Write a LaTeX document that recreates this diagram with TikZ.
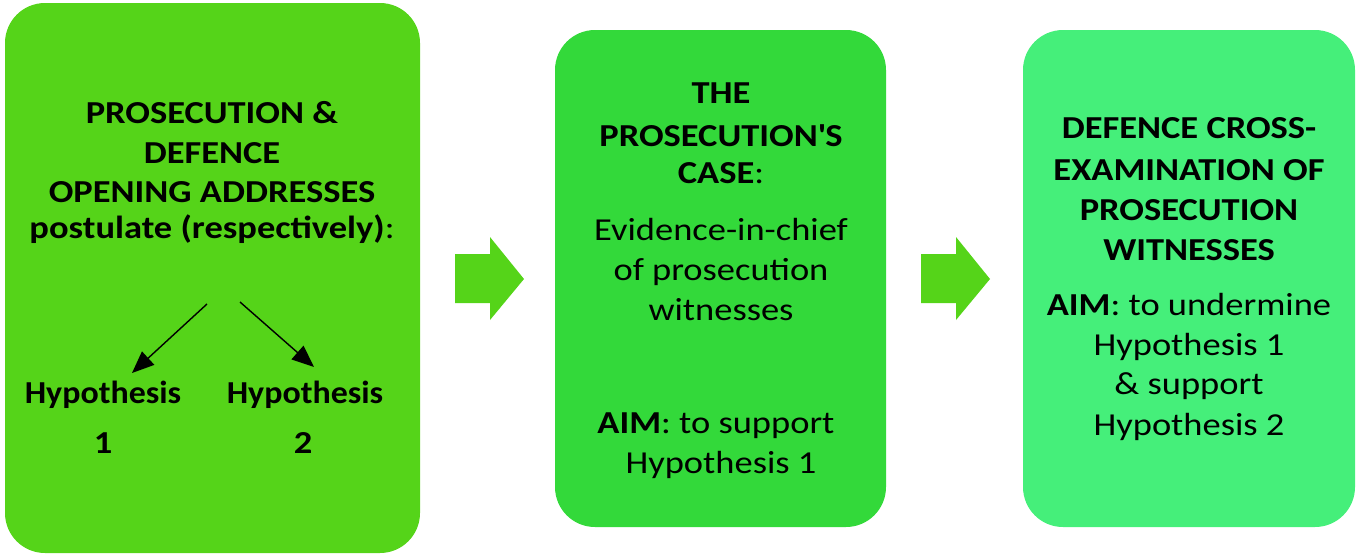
\documentclass[tikz,border=0pt]{standalone}
\usepackage{fontspec}
\setmainfont{Carlito}[FakeStretch=1.14]
\usetikzlibrary{arrows.meta}
\definecolor{gA}{RGB}{85,212,25}
\definecolor{gB}{RGB}{51,217,58}
\definecolor{gC}{RGB}{69,239,122}
\tikzset{
  panel/.style={rounded corners=40pt},
  ln/.style={anchor=base, inner sep=0pt, font=\fontsize{32}{38}\selectfont},
  bigarrow/.style={fill=gA},
  hyparrow/.style={line width=1.4pt, -{Triangle[length=22pt,width=18pt]}}
}
\newcommand{\narrow}[1]{\scalebox{0.93}[1]{#1}}
\begin{document}
\begin{tikzpicture}[x=1pt,y=-1pt]
\useasboundingbox (0,0) rectangle (1358,558);
% panels
\fill[gA, panel] (5,3) rectangle (420,553);
\fill[gB, panel] (555,30) rectangle (886,527);
\fill[gC, panel] (1023,30) rectangle (1355,527);
% big arrows
\fill[bigarrow] (455,254) -- (490,254) -- (490,237) -- (524,279) -- (490,320) -- (490,303) -- (455,303) -- cycle;
\fill[bigarrow] (921,254) -- (956,254) -- (956,237) -- (990,279) -- (956,320) -- (956,303) -- (921,303) -- cycle;
% panel 1
\node[ln] (a1) at (212,123) {\textbf{PROSECUTION \&}};
\node[ln] (a2) at (212,163) {\textbf{DEFENCE}};
\node[ln] (a3) at (212,202) {\textbf{OPENING ADDRESSES}};
\node[ln] (a4) at (212,238) {\textbf{postulate (respectively)}:};
\coordinate (s1) at (207,304);
\coordinate (s2) at (240,302);
\node[ln] (h1) at (103,403) {\narrow{\textbf{Hypothesis}}};
\node[ln] (h1n) at (103,453) {\textbf{1}};
\node[ln] (h2) at (305,403) {\narrow{\textbf{Hypothesis}}};
\node[ln] (h2n) at (303,453) {\textbf{2}};
\coordinate (e1) at (132,373);
\coordinate (e2) at (314,367);
\draw[hyparrow] (s1) -- (e1);
\draw[hyparrow] (s2) -- (e2);
% panel 2
\node[ln] (b1) at (721,103) {\textbf{THE}};
\node[ln] (b2) at (721,146) {\textbf{PROSECUTION\textquotesingle S}};
\node[ln] (b3) at (721,183) {\textbf{CASE}:};
\node[ln] (b4) at (721,240) {Evidence-in-chief};
\node[ln] (b5) at (721,280) {of prosecution};
\node[ln] (b6) at (721,320) {witnesses};
\node[ln] (b7) at (716,433) {\textbf{AIM}: to support};
\node[ln] (b8) at (721,473) {Hypothesis 1};
% panel 3
\node[ln] (c1) at (1189,138) {\textbf{DEFENCE CROSS-}};
\node[ln] (c2) at (1189,180) {\textbf{EXAMINATION OF}};
\node[ln] (c3) at (1189,220) {\textbf{PROSECUTION}};
\node[ln] (c4) at (1189,260) {\textbf{WITNESSES}};
\node[ln] (c5) at (1189,315) {\textbf{AIM}: to undermine};
\node[ln] (c6) at (1189,355) {Hypothesis 1};
\node[ln] (c7) at (1189,394) {\& support};
\node[ln] (c8) at (1189,435) {Hypothesis 2};
\end{tikzpicture}
\end{document}
